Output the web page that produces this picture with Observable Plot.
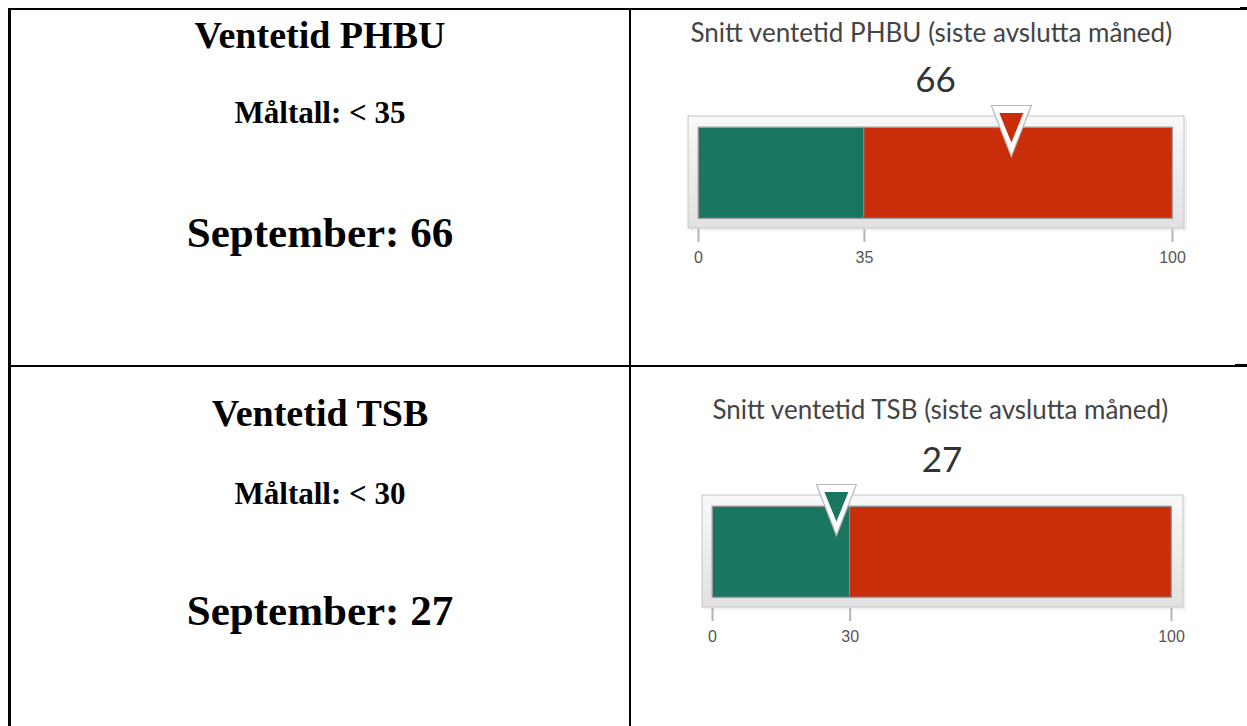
<!DOCTYPE html>
<html><head><meta charset="utf-8">
<script src="https://cdn.jsdelivr.net/npm/d3@7"></script>
<script src="https://cdn.jsdelivr.net/npm/@observablehq/plot@0.6"></script>
<style>
body{margin:0;background:#fff;width:1247px;height:726px;overflow:hidden;position:relative;}
.line{position:absolute;background:#000;}
.lt{position:absolute;left:11px;width:618px;text-align:center;font-family:"Liberation Serif","Times New Roman",serif;font-weight:bold;color:#000;white-space:nowrap;}
.g{position:absolute;left:631px;}
</style></head><body>
<div id="root"></div>
<script>
// ---- data ----
const headings = ["Ventetid PHBU", "Ventetid TSB"];
const gaugeTitles = ["Snitt ventetid PHBU (siste avslutta måned)", "Snitt ventetid TSB (siste avslutta måned)"];
const targets = [35, 30];
const values = [66, 27];
const scaleMax = [100, 100];
const monthLabel = "September";
const targetLabel = "Måltall: <";
const bandNames = ["under", "over"];
const bandColors = ["#1a7660", "#c92d0a"];

// ---- table lines ----
const lines = [
  [8, 8, 1232, 2], [1240, 7, 7, 3],
  [8, 365, 1227, 2], [1235, 364, 12, 3],
  [8, 8, 3, 718], [629, 8, 2, 718]
];
const root = document.getElementById("root");
for (const [l, t, w, h] of lines) {
  const d = document.createElement("div");
  d.className = "line";
  Object.assign(d.style, {left: l + "px", top: t + "px", width: w + "px", height: h + "px"});
  root.appendChild(d);
}

// ---- left cell texts ----
const leftTexts = (i) => [
  {text: headings[i], size: 38, y: [35, 413][i]},
  {text: `${targetLabel} ${targets[i]}`, size: 31, y: [112, 493][i]},
  {text: `${monthLabel}: ${values[i]}`, size: 43, y: [232, 610][i]}
];
for (let i = 0; i < 2; i++) {
  for (const t of leftTexts(i)) {
    const d = document.createElement("div");
    d.className = "lt";
    d.textContent = t.text;
    Object.assign(d.style, {fontSize: t.size + "px", lineHeight: (t.size + 10) + "px", top: (t.y - (t.size + 10) / 2) + "px"});
    root.appendChild(d);
  }
}

// ---- gauges ----
const layouts = [
  {top: 9, height: 356, ml: 67, mr: 75, mt: 118, mb: 147, titleDx: -8, titleDy: -94, valueDy: -47},
  {top: 367, height: 359, ml: 81, mr: 76, mt: 139, mb: 129, titleDx: 0, titleDy: -96, valueDy: -46}
];

const outerTri = {draw(ctx) { ctx.moveTo(-20, -22); ctx.lineTo(20, -22); ctx.lineTo(0, 29); ctx.closePath(); }};
const innerTri = {draw(ctx) { ctx.moveTo(-12, -14.5); ctx.lineTo(12, -14.5); ctx.lineTo(0, 15); ctx.closePath(); }};

for (let i = 0; i < 2; i++) {
  const L = layouts[i];
  const segs = [
    {x1: 0, x2: targets[i], band: bandNames[0]},
    {x1: targets[i], x2: scaleMax[i], band: bandNames[1]}
  ];
  const marker = [{v: values[i], band: values[i] < targets[i] ? bandNames[0] : bandNames[1]}];
  const plot = Plot.plot({
    width: 616, height: L.height,
    marginLeft: L.ml, marginRight: L.mr, marginTop: L.mt, marginBottom: L.mb,
    style: {background: "transparent", overflow: "visible"},
    x: {domain: [0, scaleMax[i]], axis: null},
    color: {domain: bandNames, range: bandColors},
    marks: [
      // shadow
      Plot.rect([scaleMax[i]], {x1: 0, x2: d => d, fill: "#000", fillOpacity: 0.05, insetLeft: -8, insetRight: -15, insetTop: -9, insetBottom: -13}),
      // outer frame
      Plot.rect([scaleMax[i]], {x1: 0, x2: d => d, fill: `url(#fg${i})`, stroke: "#c6c6c6", strokeWidth: 1, insetLeft: -10, insetRight: -12, insetTop: -11, insetBottom: -10}),
      Plot.rect(segs, {x1: "x1", x2: "x2", fill: "band", stroke: "#8f8f8f", strokeWidth: 0.8}),
      Plot.frame({stroke: "#9a9a9a", strokeWidth: 1}),
      Plot.axisX({ticks: [0, targets[i], scaleMax[i]], tickSize: 13, tickPadding: 9, dy: 11, stroke: "#b3b3b3", strokeWidth: 2, fill: "#555", fontSize: 16, fontFamily: "Liberation Sans, Arial, sans-serif", label: null, tickFormat: d => String(d)}),
      Plot.dot(marker, {x: "v", frameAnchor: "top", symbol: outerTri, fill: "white", stroke: "#b8b8b8", strokeWidth: 1.2}),
      Plot.dot(marker, {x: "v", frameAnchor: "top", symbol: innerTri, fill: "band", stroke: "none"}),
      Plot.text([gaugeTitles[i]], {frameAnchor: "top-left", text: d => d, dx: L.titleDx, dy: L.titleDy, textAnchor: "start", lineAnchor: "middle", fontSize: 26, fill: "#444", fontFamily: "Lato, 'Open Sans', sans-serif"}),
      Plot.text([values[i]], {frameAnchor: "top", text: d => String(d), dy: L.valueDy, lineAnchor: "middle", fontSize: 35, fill: "#333", fontFamily: "Lato, 'Open Sans', sans-serif"})
    ]
  });
  d3.select(plot).insert("defs", ":first-child").html(
    `<linearGradient id="fg${i}" x1="0" y1="0" x2="0" y2="1"><stop offset="0" stop-color="#f9f9f9"/><stop offset="1" stop-color="#e1e1e1"/></linearGradient>`
  );
  const wrap = document.createElement("div");
  wrap.className = "g";
  wrap.style.top = L.top + "px";
  wrap.appendChild(plot);
  root.appendChild(wrap);
}
</script>
</body></html>
